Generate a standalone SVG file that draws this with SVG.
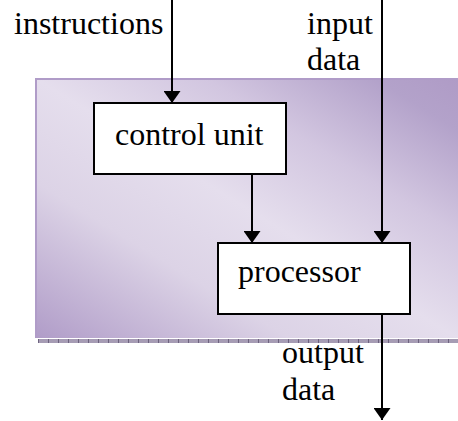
<svg xmlns="http://www.w3.org/2000/svg" width="458" height="421" viewBox="0 0 458 421">
<defs>
<linearGradient id="bg" x1="0" y1="1" x2="1" y2="0">
<stop offset="0" stop-color="#B09CC8"/>
<stop offset="0.3" stop-color="#DCD3E6"/>
<stop offset="0.5" stop-color="#E5DEED"/>
<stop offset="0.7" stop-color="#D2C6E0"/>
<stop offset="0.9" stop-color="#B3A2CA"/>
<stop offset="1" stop-color="#AF9BC6"/>
</linearGradient>
<pattern id="tick" width="10" height="5" patternUnits="userSpaceOnUse" x="38" y="339">
<rect width="10" height="5" fill="#A69CB4"/>
<rect width="1" height="5" fill="#6E6480"/>
</pattern>
<marker id="ah" markerWidth="12" markerHeight="17" refX="12" refY="8.5" orient="auto" markerUnits="userSpaceOnUse">
<path d="M0,0 L12,8.5 L0,17 Z" fill="#000"/>
</marker>
<style>
.box{fill:#fff;stroke:#000;stroke-width:2}
.con{stroke:#000;stroke-width:2;fill:none;marker-end:url(#ah)}
</style>
</defs>
<g id="background">
<rect x="38" y="339" width="420" height="4" fill="url(#tick)"/>
<rect x="35" y="78" width="423" height="260" fill="url(#bg)"/>
<path d="M36,338 V79 H458" fill="none" stroke="#B09CC8" stroke-width="2"/>
</g>
<g id="connectors">
<line class="con" x1="172" y1="0" x2="172" y2="103"/>
<line class="con" x1="382" y1="0" x2="382" y2="243"/>
<line class="con" x1="252" y1="174" x2="252" y2="243"/>
<line class="con" x1="382" y1="314" x2="382" y2="420"/>
</g>
<g font-family="'Liberation Serif', 'DejaVu Serif', serif" font-size="32" fill="#000">
<g id="control-unit">
<rect class="box" x="94" y="103" width="192" height="71"/>
<text x="115" y="145">control unit</text>
</g>
<g id="processor">
<rect class="box" x="218" y="243" width="192" height="71"/>
<text x="238" y="282">processor</text>
</g>
<g id="labels">
<text x="14" y="34">instructions</text>
<text x="307" y="34">input</text>
<text x="307" y="70">data</text>
<text x="282" y="363">output</text>
<text x="282" y="400">data</text>
</g>
</g>
</svg>
